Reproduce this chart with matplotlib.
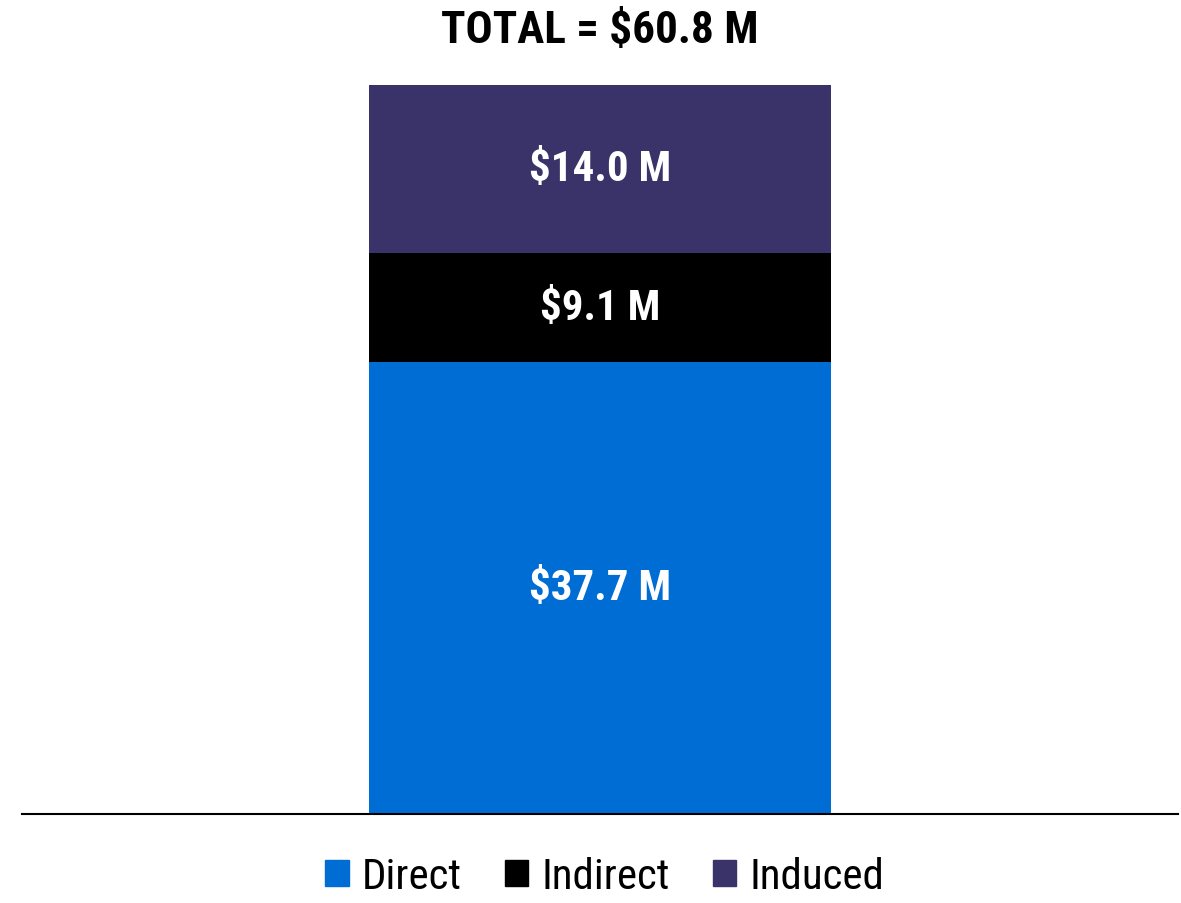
import matplotlib.pyplot as plt
from matplotlib.patches import Patch

plt.rcParams["font.family"] = ["Roboto Condensed", "Liberation Sans", "DejaVu Sans"]

# data
segments = ["Direct", "Indirect", "Induced"]
values = [37.7, 9.1, 14.0]
colors = ["#006DD5", "#000000", "#3A3369"]
total = sum(values)

fig = plt.figure(figsize=(11.81, 9.04), dpi=100)
ax = fig.add_axes([22 / 1181, 89 / 904, 1156 / 1181, 729 / 904])

bottom = 0
for name, val, col in zip(segments, values, colors):
    ax.bar(0, val, width=1.0, bottom=bottom, color=col, label=name)
    ax.text(0, bottom + val / 2, f"${val:.1f} M", ha="center", va="center",
            color="white", fontsize=31, fontweight="bold")
    bottom += val

ax.set_xlim(-1.25, 1.25)
ax.set_ylim(0, total)
for s in ["top", "right", "left"]:
    ax.spines[s].set_visible(False)
ax.spines["bottom"].set_linewidth(1.5)
ax.set_xticks([])
ax.set_yticks([])

fig.text(0.508, 1 - 31 / 904, f"TOTAL = ${total:.1f} M", ha="center", va="center",
         fontsize=32.5, fontweight="bold")

handles = [Patch(color=c, label=n) for n, c in zip(segments, colors)]
fig.legend(handles=handles, loc="center", bbox_to_anchor=(0.512, 1 - 878 / 904),
           ncol=3, frameon=False, fontsize=31, handlelength=0.55, handleheight=0.55,
           handletextpad=0.3, columnspacing=1.0, borderaxespad=0, borderpad=0.1)

fig.savefig("out.png", dpi=100)
